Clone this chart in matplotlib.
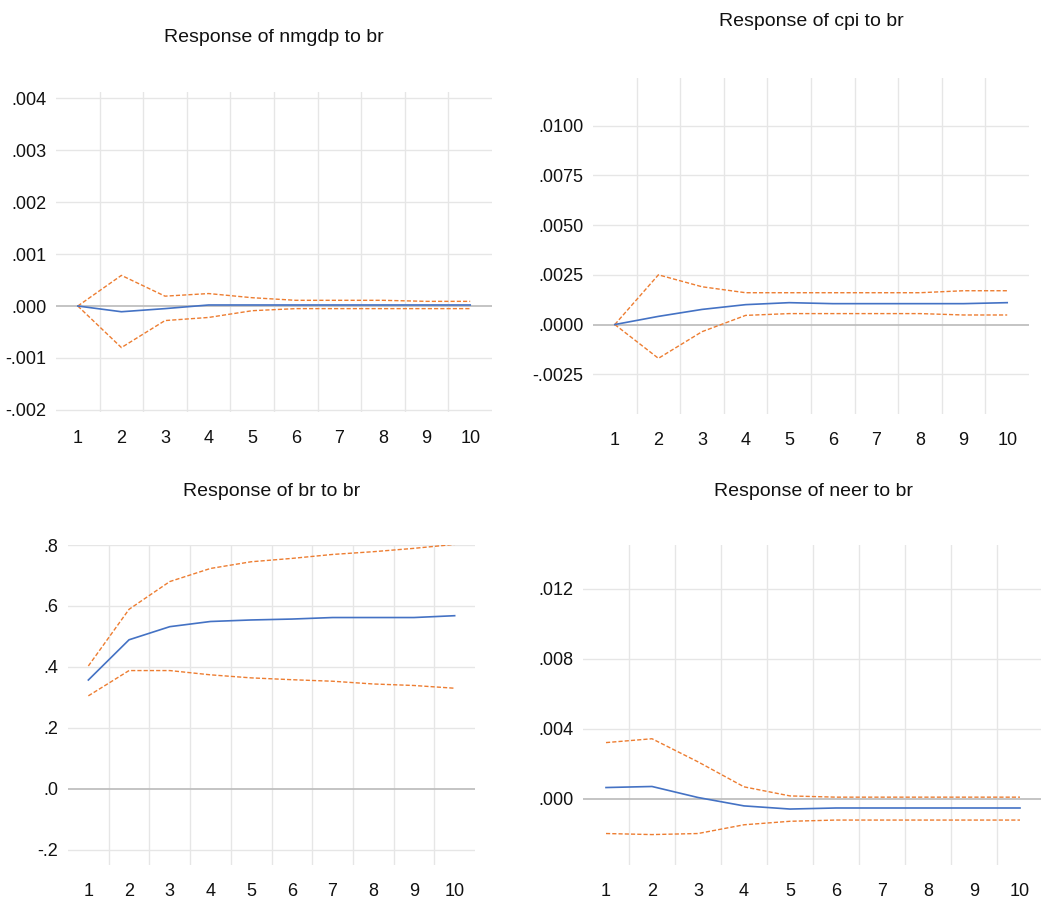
import numpy as np
import matplotlib
matplotlib.use('Agg')
import matplotlib.pyplot as plt

plt.rcParams['font.family'] = ['Liberation Sans', 'DejaVu Sans']

periods = list(range(1, 11))

# response of nmgdp to br
nmgdp_resp = [0.0, -0.00011, -0.00005, 0.00002, 0.00002, 0.00002, 0.00002, 0.00002, 0.00002, 0.00002]
nmgdp_up = [0.0, 0.00059, 0.00019, 0.00024, 0.00016, 0.00011, 0.00011, 0.00011, 0.00009, 0.00009]
nmgdp_lo = [0.0, -0.0008, -0.00028, -0.00022, -0.00009, -0.00005, -0.00005, -0.00005, -0.00005, -0.00005]

# response of cpi to br
cpi_resp = [0.0, 0.00041, 0.00076, 0.00100, 0.00110, 0.00105, 0.00105, 0.00105, 0.00105, 0.00110]
cpi_up = [0.0, 0.0025, 0.0019, 0.0016, 0.0016, 0.0016, 0.0016, 0.0016, 0.0017, 0.0017]
cpi_lo = [0.0, -0.0017, -0.00036, 0.00046, 0.00055, 0.00055, 0.00055, 0.00055, 0.00048, 0.00048]

# response of br to br
br_resp = [0.357, 0.489, 0.532, 0.549, 0.554, 0.557, 0.562, 0.562, 0.562, 0.568]
br_up = [0.403, 0.589, 0.680, 0.723, 0.745, 0.756, 0.769, 0.778, 0.789, 0.802]
br_lo = [0.305, 0.388, 0.388, 0.374, 0.364, 0.358, 0.353, 0.344, 0.339, 0.330]

# response of neer to br
neer_resp = [0.00063, 0.00069, 0.00006, -0.00042, -0.0006, -0.00054, -0.00054, -0.00054, -0.00054, -0.00054]
neer_up = [0.0032, 0.00342, 0.0021, 0.00067, 0.00015, 0.00008, 0.00008, 0.00008, 0.00008, 0.00008]
neer_lo = [-0.002, -0.00206, -0.002, -0.0015, -0.0013, -0.00123, -0.00123, -0.00123, -0.00123, -0.00123]

W, H = 1041, 902
fig = plt.figure(figsize=(W / 100, H / 100), dpi=100)

panels = [
    # title, resp, up, lo, yticks, ylabels, ylim, axes px (left, top, right, bottom), title px
    ("Response of nmgdp to br", nmgdp_resp, nmgdp_up, nmgdp_lo,
     [-0.002, -0.001, 0.0, 0.001, 0.002, 0.003, 0.004],
     ['-.002', '-.001', '.000', '.001', '.002', '.003', '.004'],
     (-0.00204, 0.00412), (56, 92, 492, 412), (274, 38)),
    ("Response of cpi to br", cpi_resp, cpi_up, cpi_lo,
     [-0.0025, 0.0, 0.0025, 0.005, 0.0075, 0.01],
     ['-.0025', '.0000', '.0025', '.0050', '.0075', '.0100'],
     (-0.0045, 0.0124), (593, 78, 1029, 414), (811, 22)),
    ("Response of br to br", br_resp, br_up, br_lo,
     [-0.2, 0.0, 0.2, 0.4, 0.6, 0.8],
     ['-.2', '.0', '.2', '.4', '.6', '.8'],
     (-0.25, 0.8), (68, 545, 475, 865), (272, 491)),
    ("Response of neer to br", neer_resp, neer_up, neer_lo,
     [0.0, 0.004, 0.008, 0.012],
     ['.000', '.004', '.008', '.012'],
     (-0.0038, 0.0145), (583, 545, 1043, 865), (813, 491)),
]

for title, resp, up, lo, yt, yl, ylim, box, tpos in panels:
    l, t, r, b = box
    ax = fig.add_axes([l / W, 1 - b / H, (r - l) / W, (b - t) / H])
    for s in ax.spines.values():
        s.set_visible(False)
    for yv in yt:
        if yv == 0:
            ax.axhline(0, color='#bfbfbf', lw=1.3, zorder=1)
        else:
            ax.axhline(yv, color='#e6e6e6', lw=1.0, zorder=0)
    for xv in np.arange(1.5, 10.5, 1.0):
        ax.axvline(xv, color='#e6e6e6', lw=1.0, zorder=0)
    ax.plot(periods, up, color='#ed7d31', lw=1.0, ls=(0, (3, 1.5)), zorder=2)
    ax.plot(periods, lo, color='#ed7d31', lw=1.0, ls=(0, (3, 1.5)), zorder=2)
    ax.plot(periods, resp, color='#4472c4', lw=1.2, zorder=3)
    ax.set_xlim(0.5, 10.5)
    ax.set_ylim(*ylim)
    ax.set_xticks(periods)
    ax.set_xticklabels([str(p) for p in periods])
    ax.set_yticks(yt)
    ax.set_yticklabels(yl)
    ax.tick_params(axis='both', length=0, labelsize=13, colors='#111111')
    ax.tick_params(axis='x', pad=13)
    ax.tick_params(axis='y', pad=7)
    fig.text(tpos[0] / W, 1 - tpos[1] / H, title, ha='center', va='center',
             fontsize=14, color='#111111')

fig.savefig('out.png', dpi=100, facecolor='white')
